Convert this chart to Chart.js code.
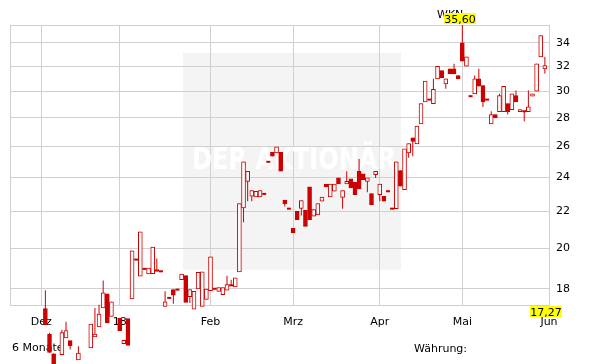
<!DOCTYPE html>
<html>
<head>
<meta charset="utf-8">
<script src="https://cdn.jsdelivr.net/npm/chart.js@4/dist/chart.umd.min.js"></script>
<style>
  html, body { margin: 0; padding: 0; background: #fff; }
</style>
</head>
<body>
<canvas id="myChart" width="611" height="364"></canvas>
<script>
// trading-day slots (Dec 2017 - May 2018), slot 4 had no trade
var days = [1,2,3,5,6,7,8,9,10,11,12,13,14,15,16,17,18,19,20,21,22,23,24,25,26,27,28,29,30,
  31,32,33,34,35,36,37,38,39,40,41,42,43,44,45,46,47,48,49,50,51,52,53,54,55,56,57,58,59,60,
  61,62,63,64,65,66,67,68,69,70,71,72,73,74,75,76,77,78,79,80,81,82,83,84,85,86,87,88,89,90,
  91,92,93,94,95,96,97,98,99,100,101,102,103,104,105,106,107,108,109,110,111,112,113,114,115,
  116,117,118,119,120,121,122];

var opens = [17.11,16.02,15.22,15.19,15.86,15.75,15.16,14.99,15.32,15.42,15.46,15.90,16.32,17.14,17.77,16.77,16.70,16.70,15.63,16.67,
  17.54,19.42,18.60,18.96,18.71,18.73,18.92,18.84,17.21,17.59,17.97,17.97,18.44,18.63,17.65,17.09,18.00,17.21,17.52,17.92,
  18.01,17.89,17.74,17.94,18.17,18.09,18.81,22.19,23.77,22.87,22.83,22.83,23.01,25.00,25.62,25.58,25.62,22.64,22.15,21.05,
  22.00,22.17,22.06,23.43,21.72,21.79,22.58,23.61,22.83,23.17,23.98,22.81,23.61,23.92,23.71,24.40,24.23,23.77,23.03,24.19,
  22.97,22.87,23.17,22.15,22.15,24.44,23.27,25.58,26.60,26.19,27.58,29.19,29.36,29.06,30.98,31.65,30.58,31.79,31.79,31.24,
  34.00,32.00,29.62,29.80,30.98,30.45,29.36,27.58,28.25,28.45,28.45,29.06,28.61,29.67,28.45,28.49,28.45,29.62,30.00,32.79,
  31.79];

var highs = [17.94,16.08,15.25,16.20,16.54,15.75,15.16,15.52,15.32,15.42,16.44,17.14,17.28,18.40,17.77,17.41,16.70,16.70,15.76,16.67,
  19.87,19.42,20.86,18.96,19.00,20.06,19.47,18.84,17.89,17.59,17.97,17.97,18.71,18.63,17.97,17.89,18.79,18.81,18.00,19.56,
  18.01,18.07,18.07,18.63,18.44,18.52,22.44,25.00,24.40,23.21,23.17,23.21,23.01,25.00,25.62,25.98,25.62,22.64,22.15,21.05,
  22.00,22.62,22.06,23.43,22.10,22.44,22.83,23.61,23.61,23.61,23.98,23.21,24.40,23.92,23.71,25.19,24.23,23.98,23.03,24.40,
  23.61,22.87,23.17,22.15,25.00,24.44,25.85,26.21,26.60,27.41,29.06,30.79,29.36,30.98,32.00,31.65,30.98,31.79,32.20,31.24,
  35.60,32.79,29.62,31.24,31.79,30.45,29.36,28.49,28.25,29.80,30.39,29.06,29.80,30.06,28.61,28.49,30.06,29.80,32.20,34.65,
  32.79];

var lows = [16.41,15.28,14.70,15.19,15.86,15.39,15.16,14.99,15.32,15.42,15.46,15.90,16.32,17.14,16.49,16.77,16.70,16.15,15.63,15.56,
  17.54,19.42,18.60,18.96,18.71,18.73,18.84,18.84,17.21,17.59,17.33,17.97,18.44,17.39,17.36,17.09,18.00,17.21,17.52,17.92,
  18.01,17.89,17.74,17.94,18.17,18.09,18.81,21.38,22.58,22.58,22.83,22.83,23.01,25.00,25.36,25.58,24.40,22.27,22.15,20.80,
  21.53,21.76,21.16,21.53,21.72,21.79,22.58,23.43,22.83,23.17,23.61,22.15,23.61,23.37,22.97,23.31,23.88,23.11,22.38,23.98,
  22.58,22.58,23.17,22.15,22.15,23.47,23.27,25.26,25.36,26.19,27.58,29.19,29.36,29.06,30.98,31.06,30.19,31.38,31.38,30.98,
  32.42,32.00,29.62,29.80,30.39,28.81,29.36,27.58,28.01,28.45,28.45,28.25,28.61,29.19,28.45,27.76,28.45,29.62,30.00,32.79,
  31.38];

var closes = [16.41,15.28,14.70,16.08,16.17,15.55,15.16,15.25,15.32,15.42,16.44,16.02,16.87,17.82,16.49,17.41,16.70,16.15,15.76,15.56,
  19.87,19.42,20.86,18.96,19.00,20.06,18.84,18.84,17.41,17.59,17.71,17.97,18.71,17.39,17.97,17.89,18.79,18.81,18.00,19.56,
  18.01,18.07,18.07,18.20,18.17,18.52,22.44,25.00,24.40,23.21,23.17,23.21,23.01,25.00,25.36,25.98,24.40,22.44,22.15,20.80,
  21.53,22.62,21.16,21.53,22.10,22.44,22.83,23.43,23.61,23.61,23.61,23.21,23.77,23.37,22.97,23.31,23.88,23.98,22.38,24.40,
  23.61,22.58,23.17,22.15,25.00,23.47,25.85,26.21,26.36,27.41,29.06,30.79,29.36,30.14,32.00,31.06,30.98,31.38,31.38,30.98,
  32.42,32.79,29.62,30.98,30.39,29.19,29.36,28.25,28.01,29.67,30.39,28.45,29.80,29.19,28.61,28.49,28.81,29.80,32.20,34.65,
  32.06];

// month boundaries in trading-day slots
var monthTicks  = [0, 19, 41, 61, 82, 102, 123];
var monthLabels = ['Dez', '18', 'Feb', 'Mrz', 'Apr', 'Mai', 'Jun'];
var priceTicks  = [18, 20, 22, 24, 26, 28, 30, 32, 34];
var xMin = -7.45, xMax = 123;
var yMin = 17.27, yMax = 35.6;
var highText = '35,60', lowText = '17,27';

var red = '#cc0000';
var gridColor = '#d0d0d0';
var font = '"DejaVu Sans", Verdana, sans-serif';

var bodies = [], wicks = [], dashes = [], bodyUp = [];
days.forEach(function(d, i) {
  wicks.push({x: d, y: [lows[i], highs[i]]});
  if (opens[i] === closes[i]) {
    dashes.push({x: d, y: opens[i]});
  } else {
    bodies.push({x: d, y: [opens[i], closes[i]]});
    bodyUp.push(closes[i] > opens[i]);
  }
});

function yellowLabel(ctx, text, cx, top) {
  ctx.font = '11px ' + font;
  var w = ctx.measureText(text).width + 1;
  ctx.fillStyle = '#ffff00';
  ctx.fillRect(Math.round(cx - w / 2), top, Math.round(w), 11);
  ctx.fillStyle = '#000';
  ctx.textAlign = 'center';
  ctx.textBaseline = 'alphabetic';
  ctx.fillText(text, cx, top + 10);
}

var extras = {
  id: 'extras',
  beforeDraw: function(chart) {
    var ctx = chart.ctx;
    ctx.save();
    ctx.fillStyle = '#f4f4f4';
    ctx.fillRect(183, 53, 218, 217);
    ctx.font = '11px ' + font;
    ctx.fillStyle = '#000';
    ctx.textAlign = 'left';
    ctx.textBaseline = 'alphabetic';
    ctx.fillText('WKN:', 437, 18);
    ctx.restore();
  },
  beforeDatasetsDraw: function(chart) {
    var ctx = chart.ctx;
    ctx.save();
    ctx.font = 'bold 30px ' + font;
    var txt = 'DER AKTIONÄR';
    var w = ctx.measureText(txt).width;
    ctx.translate(294, 161);
    ctx.scale(204 / w, 1);
    ctx.fillStyle = '#ffffff';
    ctx.textAlign = 'center';
    ctx.textBaseline = 'middle';
    ctx.fillText(txt, 0, 0);
    ctx.restore();

    ctx.save();
    ctx.font = '11px ' + font;
    ctx.fillStyle = '#000';
    ctx.textAlign = 'left';
    ctx.textBaseline = 'alphabetic';
    ctx.fillText('6 Monate', 12, 351);
    ctx.fillText('Währung:', 414, 351.5);
    ctx.restore();
  },
  afterDatasetsDraw: function(chart) {
    var ctx = chart.ctx;
    ctx.save();
    yellowLabel(ctx, highText, 460, 13);
    yellowLabel(ctx, lowText, 546, 306);
    ctx.restore();
  }
};

var canvas = document.getElementById('myChart');
var ctx = canvas.getContext('2d');

var config = {
  type: 'bar',
  data: {
    datasets: [{
      type: 'line',
      data: dashes,
      showLine: false,
      pointStyle: 'line',
      pointRadius: 2,
      pointBorderWidth: 2,
      pointBorderColor: red,
      pointBackgroundColor: red,
      clip: false,
      order: 0
    }, {
      data: bodies,
      barThickness: 4,
      borderWidth: 1,
      borderSkipped: false,
      borderColor: red,
      backgroundColor: function(c) { return bodyUp[c.dataIndex] ? '#ffffff' : red; },
      grouped: false,
      clip: false,
      order: 1
    }, {
      data: wicks,
      barThickness: 1,
      borderWidth: 0,
      inflateAmount: 0,
      backgroundColor: red,
      grouped: false,
      clip: false,
      order: 2
    }]
  },
  options: {
    responsive: false,
    animation: false,
    events: [],
    layout: { padding: { left: 10, top: 25, right: 0, bottom: 0 } },
    plugins: { legend: { display: false }, tooltip: { enabled: false } },
    scales: {
      x: {
        type: 'linear',
        min: xMin,
        max: xMax,
        offset: false,
        grid: { offset: false, color: gridColor, drawTicks: false },
        border: { color: gridColor },
        ticks: {
          autoSkip: false,
          maxRotation: 0,
          padding: 10.5,
          color: '#000',
          font: { family: font, size: 11 },
          callback: function(v) {
            var i = monthTicks.indexOf(v);
            return i < 0 ? '' : monthLabels[i];
          }
        },
        afterBuildTicks: function(s) {
          s.ticks = [xMin].concat(monthTicks).map(function(v) { return {value: v}; });
        },
        afterFit: function(s) { s.height = 59; }
      },
      y: {
        type: 'logarithmic',
        position: 'right',
        min: yMin,
        max: yMax,
        grid: { color: gridColor, drawTicks: false },
        border: { color: gridColor },
        ticks: {
          autoSkip: false,
          padding: 7,
          color: '#000',
          font: { family: font, size: 11 },
          callback: function(v) {
            return priceTicks.indexOf(v) < 0 ? '' : String(v);
          }
        },
        afterBuildTicks: function(s) {
          s.ticks = [yMin].concat(priceTicks, [yMax]).map(function(v) { return {value: v}; });
        },
        afterFit: function(s) { s.width = 62; }
      }
    }
  },
  plugins: [extras]
};

var chart = new Chart(ctx, config);
</script>
</body>
</html>
